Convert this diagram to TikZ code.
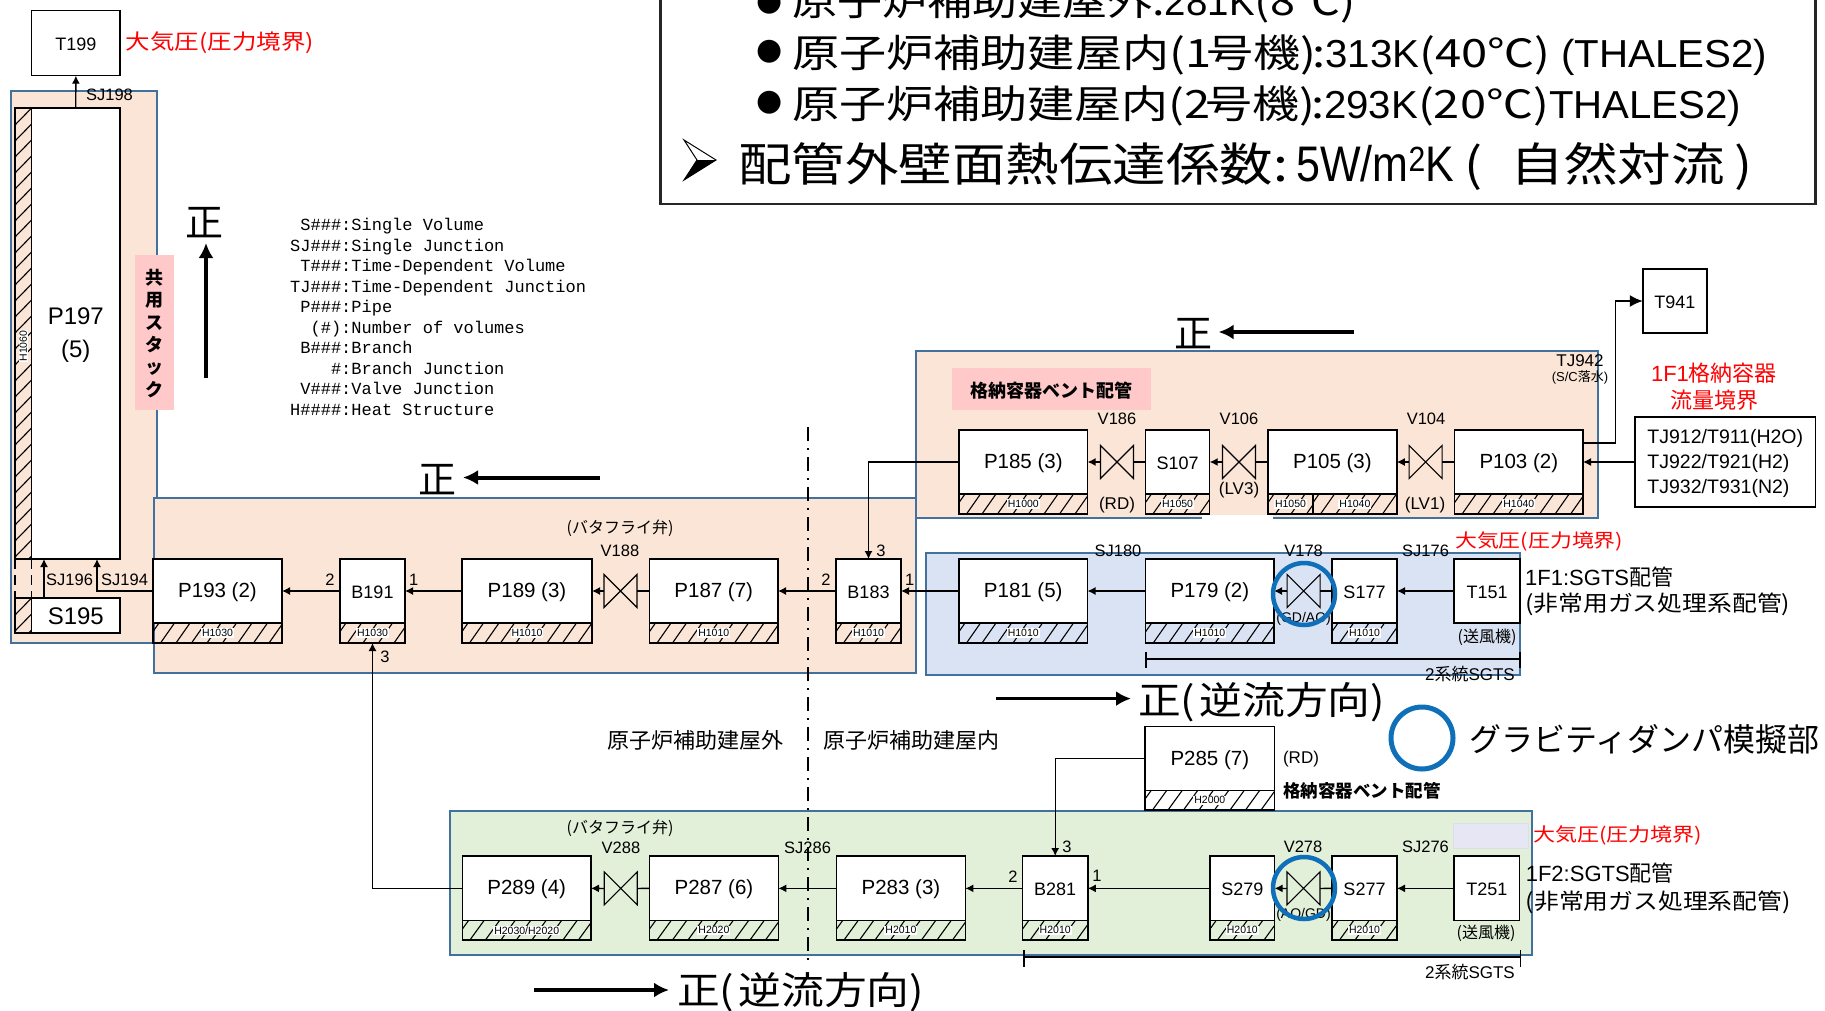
\documentclass[tikz,border=0pt]{standalone}
\usepackage{fontspec}
\usepackage{graphicx}
\usepackage{array}
\setmainfont{Liberation Sans}
\newfontfamily\jp{Noto Sans CJK JP}
\newfontfamily\dv{DejaVu Sans}
\newfontfamily\mono{Liberation Mono}
\usetikzlibrary{arrows.meta,calc}
\newcommand\fs[1]{\fontsize{#1}{#1}\selectfont}
\newcommand\fitw[2]{\resizebox{#1pt}{\height}{#2}}
\newcommand\cw[2][1.17]{\scalebox{#1}[1]{\jp #2}}
\definecolor{orangefill}{HTML}{FBE5D6}
\definecolor{bluefill}{HTML}{DAE3F3}
\definecolor{greenfill}{HTML}{E2F0D9}
\definecolor{areaedge}{HTML}{41719C}
\definecolor{pinkfill}{HTML}{FFC9C9}
\definecolor{dampblue}{HTML}{0F6FB8}
\tikzset{
  x=1pt,y=-1pt,
  boxs/.style={draw=black,fill=white,line width=1.5pt,inner sep=0pt,outer sep=0pt,font=\fs{18}},
  area/.style={draw=areaedge,line width=1.8pt},
  hl/.style={line width=1.1pt},
  hlabel/.style={fill=white,inner sep=1pt,font=\fs{10.5}},
  flow/.style={-{Latex[length=8pt,width=8pt]},line width=1.3pt},
  plain/.style={line width=1.3pt},
  bigarrow/.style={-{Latex[length=15pt,width=15pt]},line width=4pt},
  lbl/.style={inner sep=0pt,font=\fs{16.5},yshift=-1.5pt},
  red label/.style={inner sep=0pt,text=red,yshift=-1pt},
  damper/.style={draw=dampblue,line width=4.5pt,circle,minimum size=62pt,inner sep=0pt},
  valveb/.style={inner sep=0pt,outer sep=0pt,minimum width=33pt,minimum height=33pt},
}
\newcommand\bx[7][18]{% size, name, x1, x2, y1, y2, text
  \node[boxs,font=\fs{#1},minimum width={(#4)-(#3)},minimum height={(#6)-(#5)}] (#2) at ({((#3)+(#4))/2},{((#5)+(#6))/2}) {\raisebox{-1.2pt}[\height][\depth]{#7}};}
\newcommand\hatchbar[6]{% name, x1, x2, y1, y2, label
  \begin{scope}
    \clip (#2,#4) rectangle (#3,#5);
    \foreach \i in {0,...,9} \draw[hl] ({#2+\i*15.5-8},#5) -- ({#2+\i*15.5+6},#4);
  \end{scope}
  \draw[boxs,fill=none] (#2,#4) rectangle (#3,#5);
  \node[hlabel] (#1) at ({((#2)+(#3))/2},{((#4)+(#5))/2}) {#6};}
\newcommand\pipe[9][20.5]{% size, name, x1,x2,y1,y2,y3,text,hlabel
  \bx[#1]{#2}{#3}{#4}{#5}{#6}{#8}
  \hatchbar{#2-h}{#3}{#4}{#6}{#7}{#9}}
\newcommand\valve[3]{% name,x,y
  \node[valveb] (#1) at (#2,#3) {};
  \draw[line width=1.1pt] (#1.north west) -- (#1.south east) -- (#1.north east) -- (#1.south west) -- cycle;}
\begin{document}
\begin{tikzpicture}
\clip (0,0) rectangle (1825,1010);
\fill[white] (0,0) rectangle (1825,1010);
% coloured areas
\draw[area,fill=orangefill] (11,91) rectangle (157,643);
\draw[area,fill=orangefill] (154,498) rectangle (916,673);
\draw[area,fill=orangefill] (916,351) rectangle (1598,518);
\fill[white] (1202,515) rectangle (1273,520);
\draw[area,fill=bluefill] (926,553) rectangle (1520,675);
\draw[area,fill=greenfill] (450,811) rectangle (1532,955);
\node[inner sep=0pt,outer sep=0pt,fill=pinkfill,minimum width=39pt,minimum height=155pt] (stackbg) at (154.5,332.5) {};
\node[inner sep=0pt,align=center,font=\jp\bfseries\fontsize{18}{22.3}\selectfont] (stacklabel) at (154,333.5) {共\\用\\ス\\タ\\ッ\\ク};
\node[inner sep=0pt,outer sep=0pt,fill=pinkfill,minimum width=199pt,minimum height=42pt] (ventbg) at (1051.5,389) {};
\node[inner sep=0pt,font=\jp\bfseries\fs{18}] (ventlabel) at (1051,390.5) {格納容器ベント配管};
\fill[fill={rgb,255:red,230;green,230;blue,245},draw={rgb,255:red,222;green,222;blue,235},line width=1pt] (1453,823) rectangle (1528,848);

% top legend box
\draw[line width=2.6pt,draw=black!85] (660.5,-10) rectangle (1815.7,204);
\node[inner sep=0pt,font=\dv\fs{30}] (b1) at (770,3) {●};
\node[inner sep=0pt,font=\dv\fs{30}] (b2) at (770,52) {●};
\node[inner sep=0pt,font=\dv\fs{30}] (b3) at (770,103) {●};
\node[inner sep=0pt,anchor=base west,font=\fs{39}] (l1) at (792,15) {\fitw{563}{\cw{原子炉補助建屋外:}281K\cw{(8℃)}}};
\node[inner sep=0pt,anchor=base west,font=\fs{39}] (l2) at (792,67) {\fitw{975}{\cw{原子炉補助建屋内(1\kern-.1em 号機)\kern-.1em:}313K\cw{(40℃) }(THALES2)}};
\node[inner sep=0pt,anchor=base west,font=\fs{39}] (l3) at (792,118) {\fitw{949}{\cw{原子炉補助建屋内(2\kern-.1em 号機)\kern-.1em:}293K\cw{(20℃)}THALES2)}};
\fill[white,draw=black,line width=1pt] (716,160) -- (684,140) -- (697,160) -- (684,180) -- cycle;
\fill[black] (716,160) -- (697,160) -- (684,180) -- cycle;
\node[inner sep=0pt,anchor=base west,font=\fs{50}] (l4) at (738,181) {\fitw{1014}{\cw[1.15]{\fs{46}配管外壁面熱伝達係数:}\kern8pt\scalebox{.85}[1]{5W/m\textsuperscript{2}K}\kern10pt\cw[1.15]{\fs{46}(\kern24pt自然対流\kern8pt)}}};

% stack
\bx{T199}{31.6}{120.2}{10.3}{75.7}{T199}
\begin{scope}
  \clip (15,108) rectangle (31.6,559);
  \foreach \i in {0,...,29} \draw[hl] (15,{125+\i*16}) -- (31.6,{108+\i*16});
\end{scope}
\draw[boxs,fill=none] (15,108) rectangle (31.6,559);
\node[boxs,minimum width=88.4pt,minimum height=451pt] (P197) at (75.8,333.5) {};
\node[inner sep=0pt,font=\fontsize{24}{33}\selectfont,align=center] (P197text) at (75.8,335) {P197\\(5)};
\node[inner sep=1pt,fill=white,rotate=90,font=\fs{10.5}] (H1060) at (23.3,346) {H1060};
\bx[24]{S195}{31.6}{120}{598}{633}{S195}
\begin{scope}
  \clip (15,598) rectangle (31.6,633);
  \foreach \i in {0,...,3} \draw[hl] (15,{615+\i*16}) -- (31.6,{598+\i*16});
\end{scope}
\draw[boxs,fill=none] (15,598) rectangle (31.6,633);
\coordinate (d1a) at (15,559); \coordinate (d1b) at (15,598);
\coordinate (d2a) at (31.6,559); \coordinate (d2b) at (31.6,598);
\draw[plain,dash pattern=on 10pt off 6pt] (d1a) -- (d1b);
\draw[plain,dash pattern=on 10pt off 6pt] (d2a) -- (d2b);

% row 1
\pipe{P193}{153}{282}{559}{623}{643}{P193 (2)}{H1030}
\pipe[18]{B191}{340}{405}{559}{623}{643}{B191}{H1030}
\pipe{P189}{462}{592}{559}{623}{643}{P189 (3)}{H1010}
\valve{V188}{620.5}{591}
\pipe{P187}{649.5}{778}{559}{623}{643}{P187 (7)}{H1010}
\pipe[18]{B183}{836}{901}{559}{623}{643}{B183}{H1010}
\pipe{P181}{959}{1087.5}{559}{623}{643}{P181 (5)}{H1010}
\pipe{P179}{1145.7}{1274}{559}{623}{643}{P179 (2)}{H1010}
\valve{V178}{1303.6}{591}
\pipe[18]{S177}{1332}{1397}{559}{623}{643}{S177}{H1010}
\bx{T151}{1454}{1520}{559}{623}{T151}

% vent row
\pipe{P185}{959}{1087.6}{430}{494}{514}{P185 (3)}{H1000}
\valve{V186}{1117}{462}
\pipe[18]{S107}{1145.4}{1209.7}{430}{494}{514}{S107}{H1050}
\valve{V106}{1239}{462}
\bx[20.5]{P105}{1268}{1396.8}{430}{494}{P105 (3)}
\hatchbar{P105-a}{1268}{1313}{494}{514}{H1050}
\hatchbar{P105-b}{1313}{1396.8}{494}{514}{H1040}
\valve{V104}{1425.6}{462}
\pipe{P103}{1454.6}{1583}{430}{494}{514}{P103 (2)}{H1040}
\bx{T941}{1642.8}{1707}{269}{333}{T941}
\node[boxs,minimum width=180.6pt,minimum height=90pt] (TJ) at (1725.3,462) {};
\node[inner sep=0pt,font=\fontsize{19.5}{25}\selectfont,align=left] (TJtext) at (1725.3,463.5) {TJ912/T911(H2O)\\TJ922/T921(H2)\\TJ932/T931(N2)};

% row 2
\pipe{P285}{1145}{1274.6}{726.7}{790.7}{810}{P285 (7)}{H2000}
\pipe{P289}{462.4}{591}{856}{920.7}{940}{P289 (4)}{H2030/H2020}
\valve{V288}{620.7}{888.4}
\pipe{P287}{649.5}{778.4}{856}{920.7}{940}{P287 (6)}{H2020}
\pipe{P283}{836.5}{965.4}{856}{920.7}{940}{P283 (3)}{H2010}
\pipe[18]{B281}{1022.6}{1087.8}{856}{920.7}{940}{B281}{H2010}
\pipe[18]{S279}{1210}{1274.6}{856}{920.7}{940}{S279}{H2010}
\valve{V278}{1303.5}{888.4}
\pipe[18]{S277}{1332}{1397}{856}{920.7}{940}{S277}{H2010}
\bx{T251}{1454}{1519.5}{856}{920.7}{T251}

% connectors
\coordinate (sj194a) at (97,591); \coordinate (sj194b) at (97,559);
\coordinate (sj196a) at (44,598); \coordinate (sj196b) at (44,559);
\coordinate (B191bot) at (372.5,643);
\draw[flow] (P197.north) -- (T199.south);
\draw[flow] (P193.west) -- (sj194a) -- (sj194b);
\draw[flow] (sj196a) -- (sj196b);
\draw[flow] (B191.west) -- (P193.east);
\draw[flow] (P189.west) -- (B191.east);
\draw[flow] (V188.west) -- (P189.east);
\draw[plain] (P187.west) -- (V188.east);
\draw[flow] (B183.west) -- (P187.east);
\draw[flow] (P181.west) -- (B183.east);
\draw[flow] (P179.west) -- (P181.east);
\draw[flow] (V178.west) -- (P179.east);
\draw[plain] (S177.west) -- (V178.east);
\draw[flow] (T151.west) -- (S177.east);
\draw[flow] (P185.west) -| (B183.north);
\draw[flow] (V186.west) -- (P185.east);
\draw[plain] (S107.west) -- (V186.east);
\draw[flow] (V106.west) -- (S107.east);
\draw[plain] (P105.west) -- (V106.east);
\draw[flow] (V104.west) -- (P105.east);
\draw[plain] (P103.west) -- (V104.east);
\draw[flow] (TJ.west) -- (P103.east);
\coordinate (tjstart) at (1583,442.7);
\coordinate (tjturn) at (1615.6,301);
\draw[-{Latex[length=13pt,width=12pt]},line width=1.7pt] (tjstart) -| (tjturn) -- (T941.west);
\draw[flow] (P289.west) -| (B191bot);
\draw[flow] (V288.west) -- (P289.east);
\draw[plain] (P287.west) -- (V288.east);
\draw[flow] (P283.west) -- (P287.east);
\draw[flow] (B281.west) -- (P283.east);
\draw[flow] (S279.west) -- (B281.east);
\draw[flow] (V278.west) -- (S279.east);
\draw[plain] (S277.west) -- (V278.east);
\draw[flow] (T251.west) -- (S277.east);
\draw[flow] (P285.west) -| (B281.north);

% bracket lines
\coordinate (dima) at (1146,659); \coordinate (dimb) at (1520,659);
\draw[line width=1.3pt] (dima) -- (dimb);
\coordinate (dimat) at (1146,652); \coordinate (dimab) at (1146,668);
\coordinate (dimbt) at (1520,652); \coordinate (dimbb) at (1520,668);
\draw[line width=1.1pt] (dimat) -- (dimab);
\draw[line width=1.1pt] (dimbt) -- (dimbb);
\coordinate (dimc) at (1024,957); \coordinate (dimd) at (1520.5,957);
\draw[line width=1.3pt] (dimc) -- (dimd);
\coordinate (dimct) at (1024,950); \coordinate (dimcb) at (1024,967);
\coordinate (dimdt) at (1520.5,950); \coordinate (dimdb) at (1520.5,967);
\draw[line width=1.1pt] (dimct) -- (dimcb);
\draw[line width=1.1pt] (dimdt) -- (dimdb);

% dash-dot boundary
\coordinate (bounda) at (808,427); \coordinate (boundb) at (808,965);
\draw[line width=1.3pt,dash pattern=on 14pt off 7pt on 2pt off 7pt] (bounda) -- (boundb);

% direction marks
\node[inner sep=0pt,font=\jp\fs{38}] (sei1) at (204.6,223) {正};
\coordinate (a1a) at (206,378); \coordinate (a1b) at (206,243);
\draw[bigarrow] (a1a) -- (a1b);
\node[inner sep=0pt,font=\jp\fs{38}] (sei2) at (437.6,480) {正};
\coordinate (a2a) at (600,477.5); \coordinate (a2b) at (463,477.5);
\draw[bigarrow] (a2a) -- (a2b);
\node[inner sep=0pt,font=\jp\fs{38}] (sei3) at (1193,334) {正};
\coordinate (a3a) at (1354,332); \coordinate (a3b) at (1218.6,332);
\draw[bigarrow] (a3a) -- (a3b);
\coordinate (a4a) at (996,698.6); \coordinate (a4b) at (1131,698.6);
\draw[bigarrow,line width=3.5pt] (a4a) -- (a4b);
\node[inner sep=0pt,anchor=west,font=\jp\fs{38}] (sei4) at (1138,702) {\fitw{247}{正(\kern.1em 逆流方向)}};
\coordinate (a5a) at (534,990); \coordinate (a5b) at (669,990);
\draw[bigarrow,line width=3.5pt] (a5a) -- (a5b);
\node[inner sep=0pt,anchor=west,font=\jp\fs{38}] (sei5) at (677,992) {\fitw{247}{正(\kern.1em 逆流方向)}};

% code legend
\node[inner sep=0pt,anchor=north west,font=\mono\fontsize{17}{20.5}\selectfont] (legend) at (290,216) {%
\begin{tabular}{@{}r@{}l@{}}
S\#\#\#&:Single Volume\\
SJ\#\#\#&:Single Junction\\
T\#\#\#&:Time-Dependent Volume\\
TJ\#\#\#&:Time-Dependent Junction\\
P\#\#\#&:Pipe\\
(\#)&:Number of volumes\\
B\#\#\#&:Branch\\
\#&:Branch Junction\\
V\#\#\#&:Valve Junction\\
H\#\#\#\#&:Heat Structure
\end{tabular}};

% labels
\node[red label,anchor=west,font=\jp\fs{21}] (rT199) at (125.7,41.7) {\fitw{188}{大気圧(圧力境界)}};
\node[lbl] (SJ198) at (109.5,93) {SJ198};
\node[lbl,anchor=west] (SJ196) at (46,578) {SJ196};
\node[lbl,anchor=west] (SJ194) at (101,578) {SJ194};
\node[lbl] (n191a) at (330,578) {2};
\node[lbl] (n191b) at (413.6,578) {1};
\node[lbl] (n191c) at (385,655) {3};
\node[lbl] (n183a) at (826,578) {2};
\node[lbl] (n183b) at (909.6,578) {1};
\node[lbl] (n183c) at (881,549) {3};
\node[lbl,font=\jp\fs{16}] (bf1) at (620,527) {(バタフライ弁)};
\node[lbl] (tV188) at (620,549) {V188};
\node[lbl] (tSJ180) at (1118,549) {SJ180};
\node[lbl] (tV178) at (1303.6,549) {V178};
\node[lbl] (tSJ176) at (1425.6,549) {SJ176};
\node[lbl,font=\fs{14}] (gd1) at (1303.6,617) {(GD/AO)};
\node[red label,anchor=west,font=\jp\fs{18.7}] (rT151) at (1455,540.7) {\fitw{168}{大気圧(圧力境界)}};
\node[lbl,anchor=west,font=\fs{22}] (s1a) at (1525,575.7) {1F1:SGTS{\jp 配管}};
\node[lbl,anchor=west,font=\jp\fs{22}] (s1b) at (1525,603) {\fitw{265}{(非常用ガス処理系配管)}};
\node[lbl,font=\jp\fs{16}] (blower1) at (1487,636) {(送風機)};
\node[lbl,anchor=east,font=\fs{17}] (sg1) at (1515,673) {2{\jp 系統}SGTS};
\node[lbl] (tV186) at (1117,417) {V186};
\node[lbl] (tV106) at (1239,417) {V106};
\node[lbl] (tV104) at (1426,417) {V104};
\node[lbl,font=\fs{17}] (rd1) at (1117,504) {(RD)};
\node[lbl,font=\fs{17}] (lv3) at (1239,489) {(LV3)};
\node[lbl,font=\fs{17}] (lv1) at (1425,504) {(LV1)};
\node[lbl,font=\fs{17}] (tj942) at (1580,359) {TJ942};
\node[lbl,font=\fs{13}] (sc) at (1580,376) {(S/C{\jp 落水})};
\node[red label,font=\fs{22}] (r1f1) at (1714,372) {1F1{\jp 格納容器}};
\node[red label,font=\jp\fs{22}] (rflow) at (1714,399) {流量境界};
\node[lbl,font=\jp\fs{21.5}] (outb) at (695,739) {\fitw{176}{原子炉補助建屋外}};
\node[lbl,font=\jp\fs{21.5}] (inb) at (911,739) {\fitw{176}{原子炉補助建屋内}};
\node[lbl,font=\fs{17}] (rd2) at (1301,758) {(RD)};
\node[lbl,font=\jp\bfseries\fs{17.5}] (vent2) at (1362,789) {格納容器ベント配管};
\node[lbl,anchor=west,font=\jp\fs{32}] (gravity) at (1469,738) {グラビティダンパ模擬部};
\node[red label,anchor=west,font=\jp\fs{18.8}] (rT251) at (1533,834) {\fitw{169}{大気圧(圧力境界)}};
\node[lbl] (n281c) at (1067,845) {3};
\node[lbl] (n281a) at (1013,875) {2};
\node[lbl] (n281b) at (1097,874) {1};
\node[lbl,font=\jp\fs{16}] (bf2) at (620,827) {(バタフライ弁)};
\node[lbl] (tV288) at (621,846.7) {V288};
\node[lbl] (tSJ286) at (807.6,846.7) {SJ286};
\node[lbl] (tV278) at (1303,845) {V278};
\node[lbl] (tSJ276) at (1425.5,845.7) {SJ276};
\node[lbl,font=\fs{14}] (gd2) at (1303.5,913) {(AO/GD)};
\node[lbl,anchor=west,font=\fs{22}] (s2a) at (1525.6,872) {1F2:SGTS{\jp 配管}};
\node[lbl,anchor=west,font=\jp\fs{22}] (s2b) at (1525.6,901) {\fitw{265}{(非常用ガス処理系配管)}};
\node[lbl,font=\jp\fs{16}] (blower2) at (1486,932) {(送風機)};
\node[lbl,anchor=east,font=\fs{17}] (sg2) at (1515,970.7) {2{\jp 系統}SGTS};

% gravity damper circles
\node[damper] (c1) at (1304,594) {};
\node[damper] (c2) at (1304,888) {};
\node[damper,line width=5pt,minimum size=62pt] (c3) at (1422,738) {};
\end{tikzpicture}
\end{document}
